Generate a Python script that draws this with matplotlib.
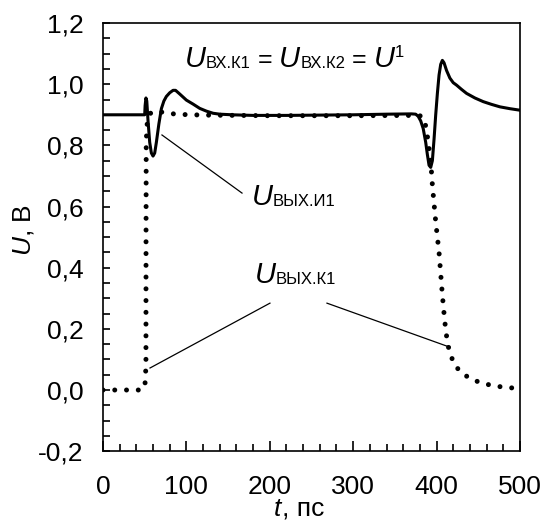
import matplotlib
matplotlib.use("Agg")
import matplotlib.pyplot as plt
from matplotlib.ticker import MultipleLocator, FuncFormatter
from matplotlib.transforms import offset_copy

plt.rcParams['font.family'] = ['Liberation Sans', 'DejaVu Sans']
plt.rcParams['mathtext.fontset'] = 'custom'
plt.rcParams['mathtext.rm'] = 'Liberation Sans'
plt.rcParams['mathtext.it'] = 'Liberation Sans:italic'
plt.rcParams['mathtext.bf'] = 'Liberation Sans:bold'

# Solid curve: U_ВЫХ.И1 (t in ps, U in V)
t_out_i1 = [0, 50, 50.5, 51.5, 52.5, 54, 56, 58, 60, 62, 64, 67, 70, 73, 76, 80, 84, 87,
            92, 100, 108, 116, 124, 132, 140, 155, 180, 220, 260, 300, 340, 370, 375,
            378, 381, 384, 387, 389, 391, 393, 395, 397, 399, 401, 403, 405, 407, 409,
            412, 416, 420, 424, 430, 436, 446, 456, 466, 476, 488, 500]
u_out_i1 = [0.90, 0.90, 0.93, 0.955, 0.945, 0.88, 0.81, 0.775, 0.765, 0.775, 0.81, 0.87,
            0.92, 0.945, 0.960, 0.972, 0.980, 0.980, 0.968, 0.948, 0.935, 0.921, 0.912,
            0.905, 0.902, 0.900, 0.898, 0.898, 0.899, 0.900, 0.902, 0.903, 0.902,
            0.895, 0.88, 0.855, 0.81, 0.77, 0.735, 0.728, 0.75, 0.82, 0.90, 0.97, 1.03,
            1.065, 1.078, 1.07, 1.045, 1.02, 1.005, 0.997, 0.983, 0.970, 0.955, 0.943,
            0.934, 0.926, 0.920, 0.915]

# Dotted curve: U_ВЫХ.К1
t_out_k1 = [0, 46, 50, 51, 51.5, 51.6, 51.8, 52.5, 54, 57, 62, 70, 80, 95, 120, 200, 300,
            376, 380, 385, 388, 390, 392, 393.5, 395, 397, 399, 401, 403, 405, 407, 409,
            411, 413.5, 416, 422, 431, 442, 455, 470, 485, 500]
u_out_k1 = [0.0, 0.0, 0.01, 0.04, 0.10, 0.50, 0.80, 0.86, 0.89, 0.905, 0.912, 0.909,
            0.904, 0.901, 0.899, 0.897, 0.897, 0.898, 0.897, 0.888, 0.85, 0.81, 0.77,
            0.73, 0.67, 0.61, 0.55, 0.50, 0.45, 0.38, 0.31, 0.25, 0.195, 0.15, 0.12,
            0.08, 0.054, 0.035, 0.022, 0.013, 0.008, 0.005]

x_ticks = [0, 100, 200, 300, 400, 500]
y_ticks = [-0.2, 0.0, 0.2, 0.4, 0.6, 0.8, 1.0, 1.2]

fig = plt.figure(figsize=(5.45, 5.24), dpi=100)
ax = fig.add_axes([0.189, 0.139, 0.765, 0.817])

ax.plot(t_out_i1, u_out_i1, color='black', lw=2.2, solid_joinstyle='round', zorder=3)
ax.plot(t_out_k1, u_out_k1, color='black', lw=3.6, linestyle=(0, (0.001, 2.35)),
        dash_capstyle='round', zorder=2)

ax.set_xlim(0, 500)
ax.set_ylim(-0.2, 1.2)
ax.set_xticks(x_ticks)
ax.set_yticks(y_ticks)
ax.xaxis.set_minor_locator(MultipleLocator(20))
ax.yaxis.set_minor_locator(MultipleLocator(0.05))
ax.yaxis.set_major_formatter(FuncFormatter(lambda v, p: f"{v:.1f}".replace('.', ',').replace('-0,0', '0,0')))
ax.xaxis.set_major_formatter(FuncFormatter(lambda v, p: f"{v:.0f}"))
ax.tick_params(axis='both', which='both', direction='in', top=False, right=False,
               labelsize=19, width=1.2)
ax.tick_params(axis='x', which='major', length=7.5, pad=17)
ax.tick_params(axis='x', which='minor', length=5)
ax.tick_params(axis='y', which='major', length=5, pad=14)
ax.tick_params(axis='y', which='minor', length=5)
for s in ax.spines.values():
    s.set_linewidth(1.2)

fig.text(0.043, 0.561, r'$U$, В', fontsize=19, rotation=90, ha='center', va='center')

renderer = fig.canvas.get_renderer()


def compose(xd, yd, parts, trans=None):
    """parts: list of (text, fontsize, style, dy_points)"""
    use_fig = trans is not None
    trans = trans if use_fig else ax.transData
    dx = 0.0
    for txt, fs, st, dy in parts:
        tr = offset_copy(trans, fig=fig, x=dx, y=dy, units='points')
        holder = fig if use_fig else ax
        t = holder.text(xd, yd, txt, fontsize=fs, style=st, ha='left', va='baseline',
                        transform=tr)
        bb = t.get_window_extent(renderer)
        dx += bb.width * 72.0 / fig.dpi


compose(98, 1.056, [('U', 21, 'italic', 0), ('ВХ.К1', 12, 'normal', -1),
                    (' = ', 18, 'normal', 0),
                    ('U', 21, 'italic', 0), ('ВХ.К2', 12, 'normal', -1),
                    (' = ', 18, 'normal', 0),
                    ('U', 21, 'italic', 0), ('1', 12, 'normal', 7)])
compose(178.7, 0.605, [('U', 21, 'italic', 0), ('ВЫХ.И1', 12, 'normal', -1)])
compose(182, 0.35, [('U', 21, 'italic', 0), ('ВЫХ.К1', 12, 'normal', -1)])

# x label
compose(0.503, 0.016, [('t', 19, 'italic', 0), (', пс', 19, 'normal', 0)],
        trans=fig.transFigure)

ax.plot([70.7, 166.7], [0.834, 0.644], color='black', lw=0.9)
ax.plot([56.4, 200.2], [0.072, 0.284], color='black', lw=0.9)
ax.plot([268.6, 416.0], [0.284, 0.140], color='black', lw=0.9)

fig.savefig('out.png', dpi=100)
